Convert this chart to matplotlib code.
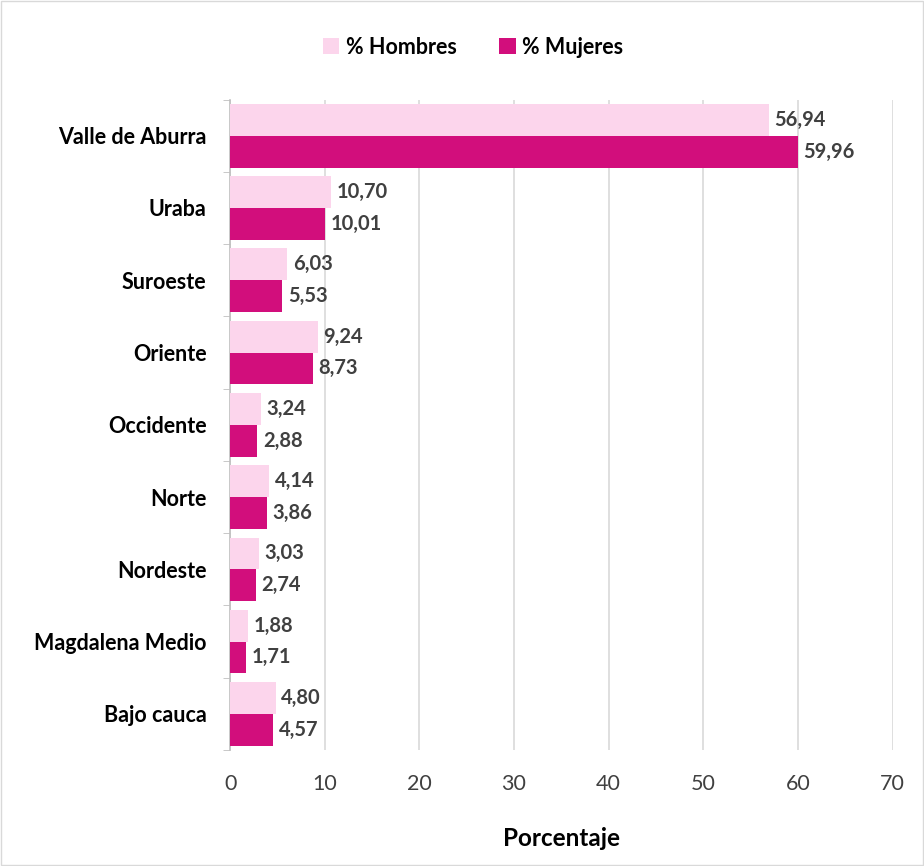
import matplotlib.pyplot as plt
import numpy as np

categorias = ["Valle de Aburra", "Uraba", "Suroeste", "Oriente", "Occidente",
              "Norte", "Nordeste", "Magdalena Medio", "Bajo cauca"]
hombres = [56.94, 10.70, 6.03, 9.24, 3.24, 4.14, 3.03, 1.88, 4.80]
mujeres = [59.96, 10.01, 5.53, 8.73, 2.88, 3.86, 2.74, 1.71, 4.57]
xticks = [0, 10, 20, 30, 40, 50, 60, 70]

plt.rcParams['font.family'] = ['Lato', 'DejaVu Sans']

fig = plt.figure(figsize=(9.24, 8.66), dpi=100)
ax = fig.add_axes([0.249, 0.134, 0.717, 0.751])

y = np.arange(len(categorias))
h = 0.44
c_h = '#FCD5EC'
c_m = '#D20E7C'
b1 = ax.barh(y - h / 2, hombres, height=h, color=c_h, label='% Hombres', zorder=3)
b2 = ax.barh(y + h / 2, mujeres, height=h, color=c_m, label='% Mujeres', zorder=3)

for bars, vals in ((b1, hombres), (b2, mujeres)):
    for bar, v in zip(bars, vals):
        ax.text(v + 0.6, bar.get_y() + bar.get_height() / 2,
                ('%.2f' % v).replace('.', ','), va='center', ha='left',
                fontsize=14.5, fontweight='bold', color='#404040', zorder=4)

ax.set_ylim(len(categorias) - 0.5, -0.5)
ax.set_xlim(0, 70)
ax.set_xticks(xticks)
ax.set_xticklabels([str(t) for t in xticks], fontsize=15.5, color='#404040')
ax.set_yticks(y)
ax.set_yticklabels(categorias, fontsize=15.5, fontweight='bold', color='black')
ax.tick_params(axis='y', length=0, pad=17)
ax.tick_params(axis='x', length=0, pad=17)
ax.set_yticks(np.arange(len(categorias) + 1) - 0.5, minor=True)
ax.tick_params(axis='y', which='minor', length=5, color='#BFBFBF', direction='out')

ax.grid(axis='x', color='#D9D9D9', linewidth=1.2, zorder=0)
for s in ('top', 'right', 'bottom'):
    ax.spines[s].set_visible(False)
ax.spines['left'].set_color('#BFBFBF')
ax.spines['left'].set_linewidth(1.2)

ax.set_xlabel('Porcentaje', fontsize=17.5, fontweight='bold', labelpad=24)

fig.legend(loc='upper center', bbox_to_anchor=(0.512, 0.98), ncol=2, frameon=False,
           prop={'size': 15.5, 'weight': 'bold'}, handlelength=0.75, handleheight=0.75,
           handletextpad=0.3, columnspacing=2.0)

fig.add_artist(plt.Rectangle((0.001, 0.001), 0.998, 0.998, transform=fig.transFigure,
                             fill=False, edgecolor='#D9D9D9', linewidth=1))

fig.savefig('out.png', dpi=100)
